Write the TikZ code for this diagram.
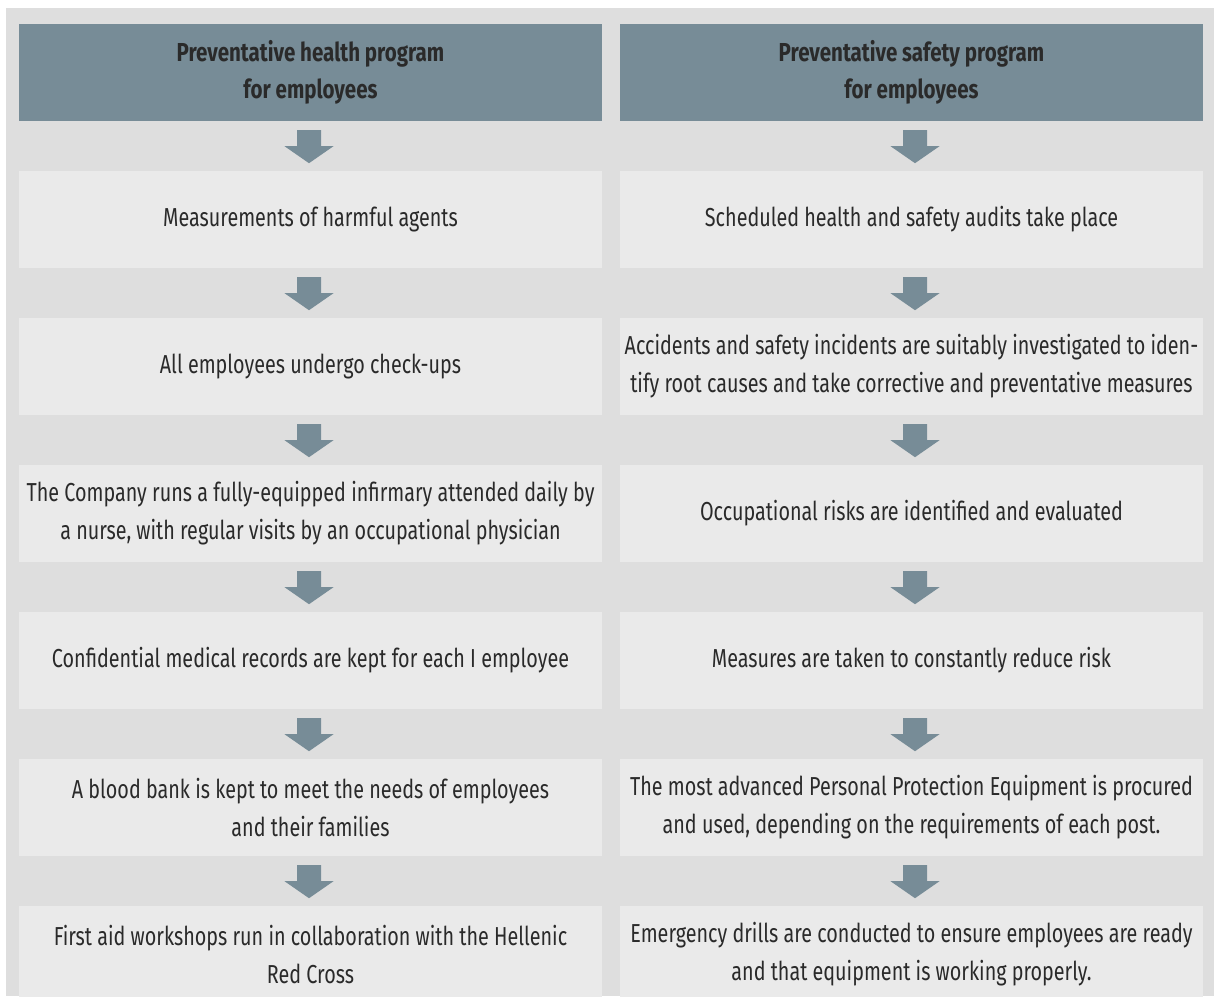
\documentclass[tikz,border=0pt]{standalone}
\usepackage{fontspec}
\setmainfont[FakeStretch=0.76,BoldFeatures={FakeStretch=0.79}]{Fira Sans}
\usetikzlibrary{calc}
\definecolor{bgc}{HTML}{DEDEDE}
\definecolor{boxc}{HTML}{EAEAEA}
\definecolor{headc}{HTML}{778C97}
\definecolor{txt}{HTML}{2A2A2A}
\tikzset{
  stepbox/.style={fill=boxc, minimum width=583pt, minimum height=97pt, inner sep=0pt,
    align=center, text=txt, font=\fontsize{26}{38}\selectfont},
  headbox/.style={stepbox, fill=headc, font=\fontsize{26}{37}\selectfont\bfseries},
  downarr/.pic={\fill[headc] (-12,0) -- (12,0) -- (12,16) -- (24.5,16) -- (0,33) -- (-24.5,16) -- (-12,16) -- cycle;}
}
\begin{document}
\begin{tikzpicture}[x=1pt,y=-1pt]
\useasboundingbox (0,0) rectangle (1214,996);
\fill[bgc] (6,8) rectangle (1214,996);
% left column
\node[headbox] (h1) at (310.5,72.5) {Preventative health program\\for employees};
\node[stepbox] (a1) at (310.5,219.5) {Measurements of harmful agents};
\node[stepbox] (a2) at (310.5,366.5) {All employees undergo check-ups};
\node[stepbox] (a3) at (310.5,513.5) {The Company runs a fully-equipped infirmary attended daily by\\a nurse, with regular visits by an occupational physician};
\node[stepbox] (a4) at (310.5,660.5) {Confidential medical records are kept for each I employee};
\node[stepbox] (a5) at (310.5,807.5) {A blood bank is kept to meet the needs of employees\\and their families};
\node[stepbox] (a6) at (310.5,954.5) {First aid workshops run in collaboration with the Hellenic\\Red Cross};
% right column
\node[headbox] (h2) at (911.5,72.5) {Preventative safety program\\for employees};
\node[stepbox] (b1) at (911.5,219.5) {Scheduled health and safety audits take place};
\node[stepbox] (b2) at (911.5,366.5) {Accidents and safety incidents are suitably investigated to iden-\\tify root causes and take corrective and preventative measures};
\node[stepbox] (b3) at (911.5,513.5) {Occupational risks are identified and evaluated};
\node[stepbox] (b4) at (911.5,660.5) {Measures are taken to constantly reduce risk};
\node[stepbox] (b5) at (911.5,807.5) {The most advanced Personal Protection Equipment is procured\\and used, depending on the requirements of each post.};
\node[stepbox] (b6) at (911.5,954.5) {Emergency drills are conducted to ensure employees are ready\\and that equipment is working properly.};
% arrows
\foreach \n in {h1,a1,a2,a3,a4,a5}{\pic at ($(\n.south)+(-1.5,9)$) {downarr};}
\foreach \n in {h2,b1,b2,b3,b4,b5}{\pic at ($(\n.south)+(3.5,9)$) {downarr};}
\end{tikzpicture}
\end{document}
